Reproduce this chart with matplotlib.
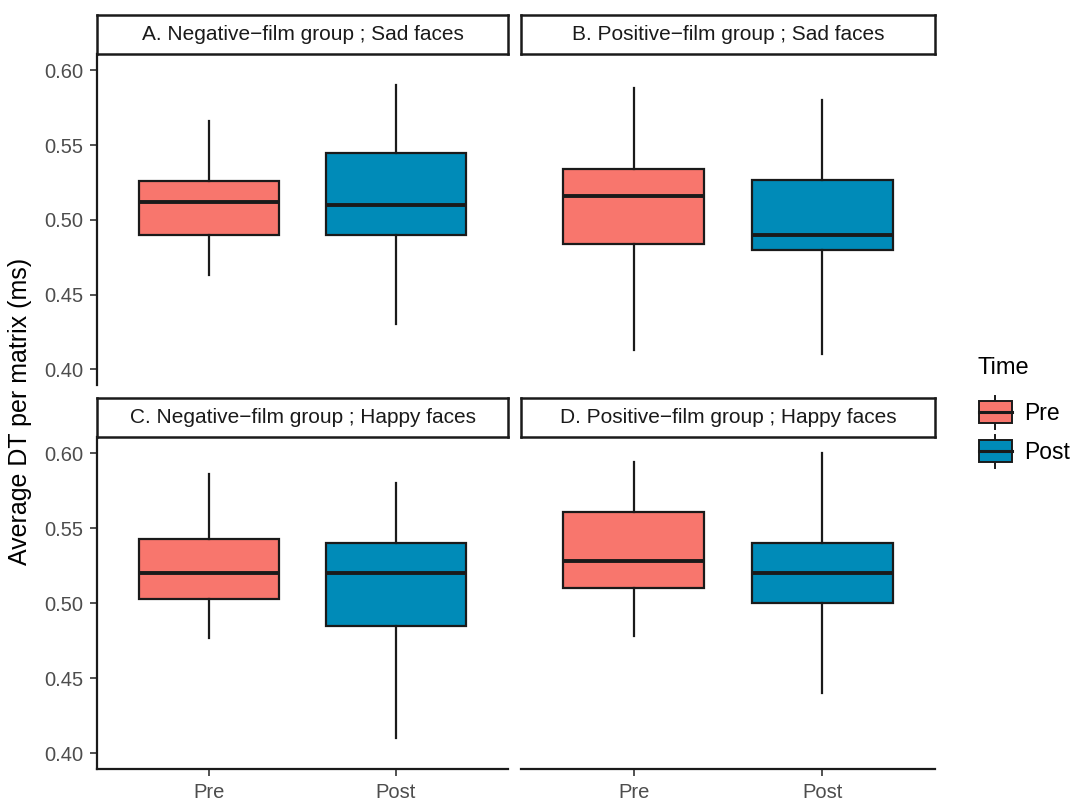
import numpy as np
import matplotlib
matplotlib.use("Agg")
import matplotlib.pyplot as plt
from matplotlib.patches import Patch, Rectangle
from matplotlib.lines import Line2D
from matplotlib.legend_handler import HandlerBase

plt.rcParams['font.family'] = ['Liberation Sans', 'DejaVu Sans']

# values (per panel: Pre, Post)
panel_titles = ["A. Negative\u2212film group ; Sad faces",
                "B. Positive\u2212film group ; Sad faces",
                "C. Negative\u2212film group ; Happy faces",
                "D. Positive\u2212film group ; Happy faces"]
times = ["Pre", "Post"]
whislo = [[0.463, 0.430], [0.413, 0.410], [0.477, 0.410], [0.478, 0.440]]
q1 = [[0.490, 0.490], [0.484, 0.480], [0.503, 0.485], [0.510, 0.500]]
med = [[0.512, 0.510], [0.516, 0.490], [0.520, 0.520], [0.528, 0.520]]
q3 = [[0.526, 0.545], [0.534, 0.527], [0.543, 0.540], [0.561, 0.540]]
whishi = [[0.566, 0.590], [0.588, 0.580], [0.586, 0.580], [0.594, 0.600]]

colors = ["#F8766D", "#008BB8"]

fig = plt.figure(figsize=(10.72, 8.01), dpi=100)

W, H = 1072, 801
# panel pixel boxes (left, right, top, bottom)
px = [(97, 508), (521, 935)]
py = [(54, 385), (437, 769)]
strip_h = 39

for i in range(4):
    r, c = divmod(i, 2)
    x0, x1 = px[c]
    y0, y1 = py[r]
    ax = fig.add_axes([x0 / W, 1 - y1 / H, (x1 - x0) / W, (y1 - y0) / H])
    stats = []
    for j in range(2):
        stats.append(dict(whislo=whislo[i][j], q1=q1[i][j], med=med[i][j],
                          q3=q3[i][j], whishi=whishi[i][j], fliers=[], label=times[j]))
    bp = ax.bxp(stats, positions=[1, 2], widths=0.75, showcaps=False,
                patch_artist=True,
                boxprops=dict(edgecolor="#1a1a1a", linewidth=1.6),
                whiskerprops=dict(color="#1a1a1a", linewidth=1.6),
                medianprops=dict(color="#1a1a1a", linewidth=2.8))
    for patch, col in zip(bp['boxes'], colors):
        patch.set_facecolor(col)
    ax.set_xlim(0.4, 2.6)
    ax.set_ylim(0.3895, 0.611)
    ax.set_yticks([0.40, 0.45, 0.50, 0.55, 0.60])
    ax.set_yticklabels(["0.40", "0.45", "0.50", "0.55", "0.60"])
    for s in ax.spines.values():
        s.set_visible(False)
        s.set_linewidth(1.6)
        s.set_color("#1a1a1a")
    ax.tick_params(axis='both', length=5, width=1.2, color="#333333",
                   labelsize=14.5, labelcolor="#4d4d4d", pad=5)
    if c == 0:
        ax.spines['left'].set_visible(True)
    else:
        ax.tick_params(axis='y', left=False, labelleft=False)
    if r == 1:
        ax.spines['bottom'].set_visible(True)
        ax.set_xticks([1, 2])
        ax.set_xticklabels(times)
    else:
        ax.tick_params(axis='x', bottom=False, labelbottom=False)

    # facet strip
    sax = fig.add_axes([x0 / W, 1 - y0 / H, (x1 - x0) / W, strip_h / H])
    sax.set_xticks([])
    sax.set_yticks([])
    for s in sax.spines.values():
        s.set_linewidth(1.8)
        s.set_color("#1a1a1a")
    sax.text(0.5, 0.5, panel_titles[i], ha='center', va='center',
             fontsize=15, color="#1a1a1a", transform=sax.transAxes)

fig.text(20 / W, 1 - 411 / H, "Average DT per matrix (ms)", rotation=90,
         ha='center', va='center', fontsize=18)


class BoxKey(HandlerBase):
    def create_artists(self, legend, orig_handle, xdescent, ydescent,
                       width, height, fontsize, trans):
        cx = width / 2 - xdescent
        bh = height * 0.67
        by = (height - bh) / 2 - ydescent
        rect = Rectangle((-xdescent, by), width, bh,
                         facecolor=orig_handle.get_facecolor(),
                         edgecolor="#1a1a1a", linewidth=1.4, transform=trans)
        mid = by + bh / 2
        m = Line2D([-xdescent, width - xdescent], [mid, mid], color="#1a1a1a",
                   linewidth=2.2, transform=trans)
        w1 = Line2D([cx, cx], [-ydescent, by], color="#1a1a1a", linewidth=1.4,
                    transform=trans)
        w2 = Line2D([cx, cx], [by + bh, height - ydescent], color="#1a1a1a",
                    linewidth=1.4, transform=trans)
        return [w1, w2, rect, m]


# legend title drawn on its own so its gap to the keys matches
fig.text(977 / W, 1 - 368 / H, "Time", ha='left', va='center', fontsize=17)
handles = [Patch(facecolor=col, label=t) for col, t in zip(colors, times)]
leg = fig.legend(handles=handles, loc='upper left',
                 bbox_to_anchor=(958 / W, 1 - 375 / H), frameon=False,
                 handler_map={Patch: BoxKey()}, fontsize=16.5,
                 handlelength=1.44, handleheight=1.86, labelspacing=0.25,
                 handletextpad=0.55)

fig.savefig("out.png", dpi=100)
